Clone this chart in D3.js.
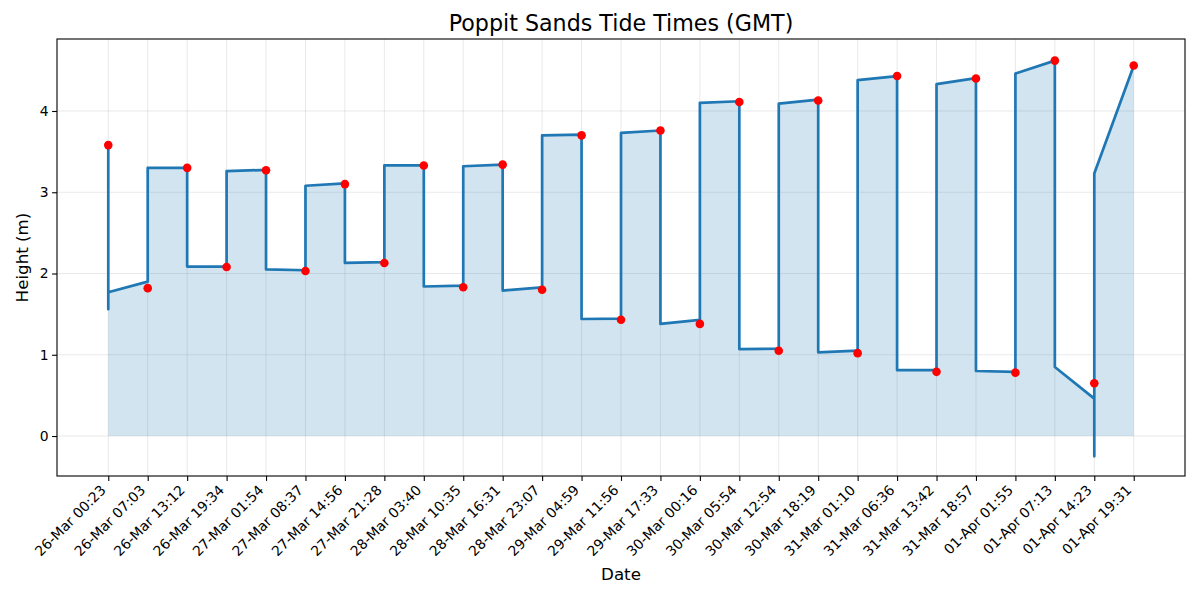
<!DOCTYPE html>
<html>
<head>
<meta charset="utf-8">
<script src="https://cdn.jsdelivr.net/npm/d3@7"></script>
<style>
  html, body { margin: 0; padding: 0; background: #fff; }
  svg { display: block; font-family: "DejaVu Sans", sans-serif; }
</style>
</head>
<body>
<svg id="chart" width="1200" height="600"></svg>
<script>
// ---- Data ----
const categories = [
  "26-Mar 00:23","26-Mar 07:03","26-Mar 13:12","26-Mar 19:34",
  "27-Mar 01:54","27-Mar 08:37","27-Mar 14:56","27-Mar 21:28",
  "28-Mar 03:40","28-Mar 10:35","28-Mar 16:31","28-Mar 23:07",
  "29-Mar 04:59","29-Mar 11:56","29-Mar 17:33","30-Mar 00:16",
  "30-Mar 05:54","30-Mar 12:54","30-Mar 18:19","31-Mar 01:10",
  "31-Mar 06:36","31-Mar 13:42","31-Mar 18:57","01-Apr 01:55",
  "01-Apr 07:13","01-Apr 14:23","01-Apr 19:31"
];
// Tide heights (red markers)
const tideHeights = [
  3.58, 1.82, 3.30, 2.08, 3.27, 2.03, 3.10, 2.13, 3.33, 1.83,
  3.34, 1.80, 3.70, 1.43, 3.76, 1.38, 4.11, 1.05, 4.13, 1.02,
  4.43, 0.79, 4.40, 0.78, 4.62, 0.65, 4.56
];
// Curve path: category index and height of each vertex
const curveIndex = [
  0,0,0, 1,1, 2,2, 3,3, 4,4, 5,5, 6,6, 7,7, 8,8, 9,9, 10,10, 11,11,
  12,12, 13,13, 14,14, 15,15, 16,16, 17,17, 18,18, 19,19, 20,20,
  21,21, 22,22, 23,23, 24,24, 25,25,25, 26
];
const curveHeight = [
  3.58,1.56,1.77, 1.90,3.30, 3.30,2.085, 2.085,3.26, 3.275,2.05,
  2.04,3.08, 3.11,2.13, 2.14,3.33, 3.33,1.84, 1.85,3.32, 3.34,1.79,
  1.83,3.70, 3.71,1.44, 1.445,3.73, 3.76,1.38, 1.43,4.10, 4.12,1.07,
  1.075,4.09, 4.14,1.03, 1.05,4.38, 4.43,0.81, 0.81,4.33, 4.405,0.80,
  0.79,4.46, 4.62,0.85, 0.46,-0.25,3.23, 4.556
];
const yTicks = [0, 1, 2, 3, 4];

// ---- Layout ----
const svg = d3.select("#chart");
const L = 57, R = 1185, T = 39, B = 476;
const n = categories.length;
const x = d3.scaleLinear().domain([-1.3, (n - 1) + 1.3]).range([L, R]);
const y = d3.scaleLinear().domain([-0.492, 4.886]).range([B, T]);
const curve = curveIndex.map((c, i) => [c, curveHeight[i]]);

// grid
const grid = svg.append("g").attr("stroke", "#b0b0b0").attr("stroke-opacity", 0.35).attr("stroke-width", 0.8);
grid.selectAll("line.gx").data(d3.range(n)).join("line")
  .attr("x1", d => x(d)).attr("x2", d => x(d)).attr("y1", T).attr("y2", B);
grid.selectAll("line.gy").data(yTicks).join("line")
  .attr("x1", L).attr("x2", R).attr("y1", d => y(d)).attr("y2", d => y(d));

// fill
const area = d3.area().x(d => x(d[0])).y0(y(0)).y1(d => y(d[1]));
svg.append("path").datum(curve).attr("d", area)
  .attr("fill", "#1f77b4").attr("fill-opacity", 0.2);

// line
const line = d3.line().x(d => x(d[0])).y(d => y(d[1]));
svg.append("path").datum(curve).attr("d", line)
  .attr("fill", "none").attr("stroke", "#1f77b4").attr("stroke-width", 2.7)
  .attr("stroke-linejoin", "round").attr("stroke-linecap", "butt");

// markers
svg.append("g").selectAll("circle").data(tideHeights).join("circle")
  .attr("cx", (d, i) => x(i)).attr("cy", d => y(d)).attr("r", 4.3)
  .attr("fill", "#ff0000");

// axes
const xAxis = d3.axisBottom(x).tickValues(d3.range(n)).tickFormat(i => categories[i])
  .tickSize(4.9).tickPadding(3.5);
const gx = svg.append("g").attr("transform", `translate(0,${B})`).call(xAxis);
gx.select(".domain").remove();
gx.selectAll(".tick line").attr("stroke", "#000").attr("stroke-width", 1.1);
gx.selectAll(".tick text")
  .attr("font-family", "DejaVu Sans").attr("font-size", 13.9).attr("fill", "#000")
  .attr("text-anchor", "end").attr("dy", null).attr("y", null)
  .attr("transform", "translate(-2,15) rotate(-45)");

const yAxis = d3.axisLeft(y).tickValues(yTicks).tickFormat(d3.format("d"))
  .tickSize(4.9).tickPadding(3.5);
const gy = svg.append("g").attr("transform", `translate(${L},0)`).call(yAxis);
gy.select(".domain").remove();
gy.selectAll(".tick line").attr("stroke", "#000").attr("stroke-width", 1.1);
gy.selectAll(".tick text")
  .attr("font-family", "DejaVu Sans").attr("font-size", 13.9).attr("fill", "#000");

// frame
svg.append("rect").attr("x", L).attr("y", T).attr("width", R - L).attr("height", B - T)
  .attr("fill", "none").attr("stroke", "#000").attr("stroke-width", 1.1);

// titles
svg.append("text").attr("x", (L + R) / 2).attr("y", 31).attr("text-anchor", "middle")
  .attr("font-size", 22.2).attr("fill", "#000").text("Poppit Sands Tide Times (GMT)");
svg.append("text").attr("x", (L + R) / 2).attr("y", 580).attr("text-anchor", "middle")
  .attr("font-size", 16.7).attr("fill", "#000").text("Date");
svg.append("text").attr("transform", `translate(28,${(T + B) / 2}) rotate(-90)`)
  .attr("text-anchor", "middle").attr("font-size", 16.7).attr("fill", "#000").text("Height (m)");
</script>
</body>
</html>
